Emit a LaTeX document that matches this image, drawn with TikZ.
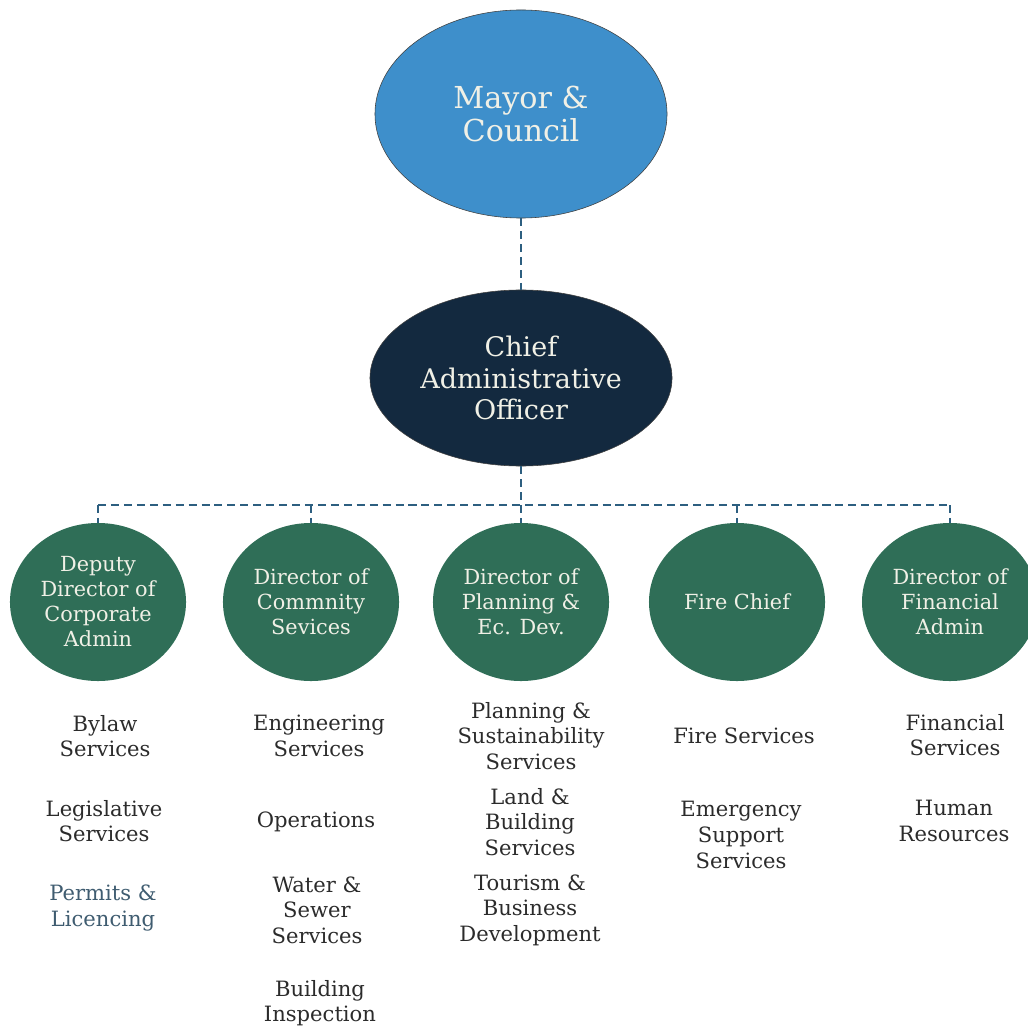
\documentclass[tikz,border=0pt]{standalone}
\usepackage{fontspec}
\setmainfont{DejaVu Serif}
\usetikzlibrary{shapes.geometric}
\definecolor{mayorblue}{HTML}{3E8FCB}
\definecolor{caonavy}{HTML}{13293F}
\definecolor{deptgreen}{HTML}{2F6E57}
\definecolor{linkblue}{HTML}{2D5F80}
\definecolor{unitgray}{HTML}{2B2B2B}
\definecolor{permitblue}{HTML}{3F5C70}
\definecolor{paletext}{HTML}{F0F0E6}
\begin{document}
\begin{tikzpicture}[x=0.025cm, y=-0.025cm,
  head/.style={ellipse, draw=black!75, thin, text=paletext, align=center, inner sep=0pt},
  dept/.style={ellipse, fill=deptgreen, text=paletext, align=center, inner sep=0pt,
    minimum width=4.4cm, minimum height=3.95cm, font=\fontsize{14.8}{17.8}\selectfont},
  unit/.style={align=center, text=unitgray, font=\fontsize{15}{18.2}\selectfont},
  link/.style={draw=linkblue, line width=1.7pt, dash pattern=on 5.7pt off 3.5pt}]

\useasboundingbox (0,0) rectangle (1027,1029);

\node(M) at (521,114)[head, fill=mayorblue, minimum width=7.3cm, minimum height=5.2cm,
  font=\fontsize{21.5}{23.5}\selectfont]{Mayor \&\\Council};
\node(C) at (521,378)[head, fill=caonavy, minimum width=7.55cm, minimum height=4.4cm,
  font=\fontsize{19.2}{22.5}\selectfont]{Chief\\Administrative\\Officer};

\node(D1) at (98,602)[dept]{Deputy\\Director of\\Corporate\\Admin};
\node(D2) at (311,602)[dept]{Director of\\Commnity\\Sevices};
\node(D3) at (521,602)[dept]{Director of\\Planning \&\\Ec. Dev.};
\node(D4) at (737,602)[dept]{Fire Chief};
\node(D5) at (950,602)[dept]{Director of\\Financial\\Admin};

\coordinate(BL) at (98,505);
\coordinate(BR) at (950,505);

\draw[link](M)--(C);
\draw[link](C)--(D3);
\draw[link](BL)--(BR);
\draw[link](BL)--(D1);
\draw[link](D2|-BL)--(D2);
\draw[link](D4|-BL)--(D4);
\draw[link](BR)--(D5);

\node(U11) at (105,736)[unit]{Bylaw\\Services};
\node(U12) at (104,821)[unit]{Legislative\\Services};
\node(U13) at (103,908)[unit, text=permitblue]{Permits \&\\Licencing};

\node(U21) at (319,736)[unit]{Engineering\\Services};
\node(U22) at (316,822)[unit]{Operations};
\node(U23) at (317,910)[unit]{Water \&\\Sewer\\Services};
\node(U24) at (320,1003)[unit]{Building\\Inspection};

\node(U31) at (531,736)[unit]{Planning \&\\Sustainability\\Services};
\node(U32) at (530,822)[unit]{Land \&\\Building\\Services};
\node(U33) at (530,910)[unit]{Tourism \&\\Business\\Development};

\node(U41) at (744,736)[unit]{Fire Services};
\node(U42) at (741,835)[unit]{Emergency\\Support\\Services};

\node(U51) at (955,735)[unit]{Financial\\Services};
\node(U52) at (954,821)[unit]{Human\\Resources};

\end{tikzpicture}
\end{document}
